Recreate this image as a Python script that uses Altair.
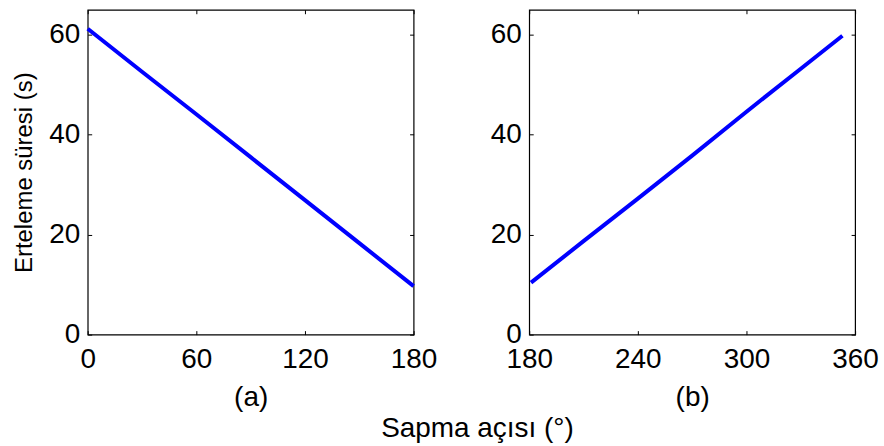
import altair as alt
import pandas as pd

# Panel (a)
angle_a = [0, 30, 60, 90, 120, 150, 180]
delay_a = [61.2, 52.6, 44.1, 35.5, 26.9, 18.3, 9.7]
# Panel (b)
angle_b = [181, 210, 240, 270, 300, 330, 353]
delay_b = [10.4, 18.7, 27.2, 35.8, 44.6, 53.2, 59.8]

xticks_a = [0, 60, 120, 180]
xticks_b = [180, 240, 300, 360]
yticks = [0, 20, 40, 60]

FONT = "Liberation Sans"
FS = 28
W, H = 327, 326


def panel(angles, delays, xdom, xticks, xtitle, ytitle=None):
    df = pd.DataFrame({"a": angles, "t": delays})
    xs = alt.Scale(domain=xdom, nice=False, zero=False)
    ys = alt.Scale(domain=[0, 65], nice=False)
    yax = dict(orient="left", values=yticks, offset=-4, tickSize=4, domain=False,
               grid=False, labelPadding=8, labelOverlap=False, titlePadding=12,
               titleFontSize=24)
    main = alt.Chart(df).mark_line(color="#0000FF", strokeWidth=4).encode(
        x=alt.X("a:Q", scale=xs, title=xtitle,
                axis=alt.Axis(orient="bottom", values=xticks, offset=-4, tickSize=4,
                              domain=False, grid=False, labelPadding=11,
                              labelFlush=False, labelOverlap=False, titlePadding=10)),
        y=(alt.Y("t:Q", scale=ys, title=ytitle, axis=alt.Axis(**yax)) if ytitle
           else alt.Y("t:Q", scale=ys, title=None, axis=alt.Axis(**yax))),
    )
    ghost = alt.Chart(df).mark_line(opacity=0).encode(
        x=alt.X("a:Q", scale=xs, title=None,
                axis=alt.Axis(orient="top", values=xticks, offset=-4, tickSize=4,
                              domain=False, grid=False, labels=False)),
        y=alt.Y("t:Q", scale=ys, title=None,
                axis=alt.Axis(orient="right", values=yticks, offset=-4, tickSize=4,
                              domain=False, grid=False, labels=False)),
    )
    return alt.layer(main, ghost).resolve_axis(x="independent", y="independent").properties(
        width=W, height=H)


pa = panel(angle_a, delay_a, [0, 180], xticks_a, "(a)", "Erteleme süresi (s)")
pb = panel(angle_b, delay_b, [180, 360], xticks_b, "(b)")

chart = alt.hconcat(pa, pb, spacing=52).properties(
    title=alt.TitleParams("Sapma açısı (°)", orient="bottom", anchor="middle",
                          font=FONT, fontSize=FS, fontWeight="normal", color="black",
                          offset=3, dx=32),
    padding={"left": 12, "top": 7, "right": 5, "bottom": 5},
    background="white",
).configure_view(stroke="black", strokeWidth=1.2).configure_axis(
    labelFont=FONT, labelFontSize=FS, labelColor="black",
    titleFont=FONT, titleFontSize=FS, titleFontWeight="normal", titleColor="black",
    tickColor="black", tickWidth=1,
)

chart.save("out.html", embed_options={"renderer": "svg", "actions": False})
